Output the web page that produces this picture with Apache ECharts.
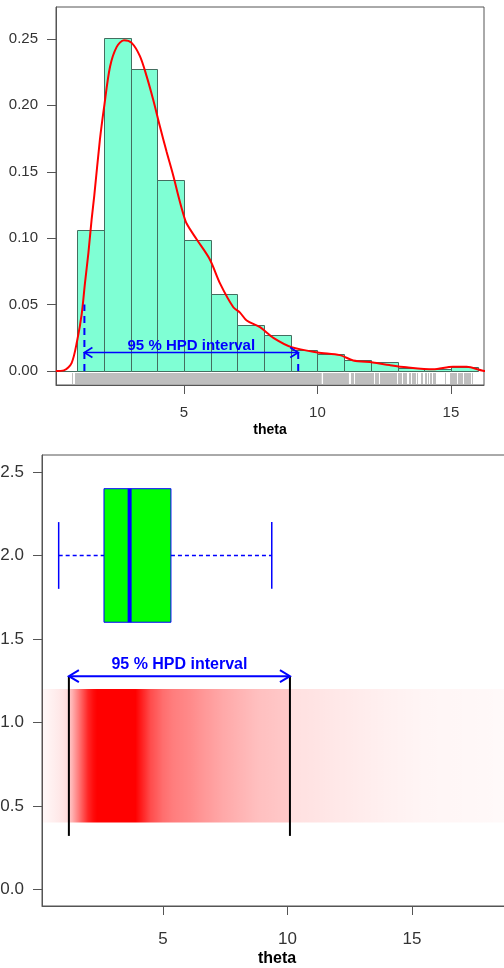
<!DOCTYPE html>
<html><head><meta charset="utf-8">
<script src="https://cdn.jsdelivr.net/npm/echarts@6/dist/echarts.min.js"></script>
<style>html,body{margin:0;padding:0;background:#fff}#c{width:504px;height:968px}</style>
</head><body><div id="c"></div>
<script>
// ---------- data: top panel (histogram + density) ----------
const binStart   = [0, 1, 2, 3, 4, 5, 6, 7, 8, 9, 10, 11, 12, 13, 14, 15];
const binEnd     = [1, 2, 3, 4, 5, 6, 7, 8, 9, 10, 11, 12, 13, 14, 15, 16];
const binDensity = [0, 0.106, 0.251, 0.227, 0.144, 0.099, 0.058, 0.035, 0.0275, 0.016, 0.013, 0.008, 0.007, 0.0023, 0.0015, 0.0028];

const densX = [0.2, 0.5, 0.79, 1.0, 1.17, 1.29, 1.42, 1.54, 1.64, 1.85, 2.01, 2.23, 2.48, 2.75, 3.04, 3.35, 3.6, 3.85, 4.1, 4.35, 4.6, 4.8, 4.95, 5.1, 5.48, 5.97, 6.35, 6.85, 7.1, 7.35, 7.85, 8.35, 9.03, 10.0, 10.84, 11.34, 12.08, 12.7, 13.34, 14.33, 15.08, 15.59, 16.2, 16.5];
const densY = [0.0, 0.0005, 0.006, 0.023, 0.043, 0.066, 0.089, 0.114, 0.132, 0.174, 0.199, 0.229, 0.244, 0.249, 0.247, 0.237, 0.222, 0.204, 0.184, 0.165, 0.147, 0.131, 0.120, 0.111, 0.099, 0.084, 0.066, 0.048, 0.044, 0.038, 0.033, 0.025, 0.018, 0.014, 0.012, 0.008, 0.0065, 0.0045, 0.0028, 0.0013, 0.0032, 0.0032, 0.0003, 0.0];

const rugRuns  = [[0.99, 10.16], [10.21, 11.18]];
const rugTicks = [0.79, 0.92, 0.95,
  11.24, 11.28, 11.31, 11.35, 11.40, 11.44, 11.47, 11.51, 11.56, 11.60, 11.63, 11.66, 11.70, 11.74, 11.78, 11.82, 11.85, 11.88, 11.93, 11.97,
  12.01, 12.04, 12.07, 12.10, 12.14, 12.17, 12.19, 12.23, 12.26, 12.28, 12.33, 12.37, 12.40, 12.42, 12.47, 12.51, 12.54, 12.57, 12.62, 12.66,
  12.69, 12.72, 12.75, 12.78, 12.83, 12.86, 12.88, 12.92, 12.95, 13.01, 13.04, 13.07, 13.11, 13.14, 13.20, 13.23, 13.27, 13.31,
  13.42, 13.45, 13.47, 13.53, 13.57, 13.60, 13.66, 13.73, 13.87, 13.92, 14.02, 14.07, 14.13,
  14.22, 14.27, 14.33, 14.36, 14.40, 14.79,
  14.96, 15.02, 15.05, 15.08, 15.13, 15.16, 15.19, 15.25, 15.30, 15.33, 15.37, 15.42, 15.48, 15.51, 15.55, 15.60, 15.64, 15.67, 15.73, 15.79];

const hpdTop      = [1.27, 9.28];
const hpdTopLineH = [0.05, 0.018];
const hpdTopArrowY = 0.014;

const xTicksTop = [5, 10, 15];
const yTicksTop = [0, 0.05, 0.10, 0.15, 0.20, 0.25];

// ---------- data: bottom panel (boxplot + shaded band) ----------
const boxStats   = [0.81, 2.63, 3.66, 5.32, 9.37]; // whisker lo, Q1, median, Q3, whisker hi
const boxYRange  = [1.6, 2.4];
const whiskerCap = [1.8, 2.2];
const boxCenterY = 2.0;

const hpdBot      = [1.22, 10.1];
const hpdBotArrowY = 1.277;
const hpdBotLineLow = 0.32;

const bandY  = [0.4, 1.2];
const shadeX = [0.0, 0.3, 0.66, 0.98, 1.20, 1.23, 1.35, 1.55, 1.79, 1.99, 2.19, 2.35, 3.9, 4.2, 4.5, 5.0, 5.4, 6.1, 6.5, 7.4, 8.8, 10.08, 10.12, 11.0, 12.0, 13.0, 14.0, 15.5, 17.5, 19.0];
const shadeA = [0.02, 0.04, 0.07, 0.10, 0.14, 0.22, 0.30, 0.47, 0.68, 0.85, 0.95, 1.0, 1.0, 0.85, 0.70, 0.57, 0.51, 0.46, 0.42, 0.34, 0.25, 0.21, 0.12, 0.11, 0.09, 0.075, 0.06, 0.04, 0.03, 0.02];

const xTicksBot = [5, 10, 15];
const yTicksBot = [0, 0.5, 1.0, 1.5, 2.0, 2.5];

const hpdLabel = '95 % HPD interval';

// ---------- chart ----------
const FONT = "'Liberation Sans', Arial, Helvetica, sans-serif";
const AX = '#555';
const chart = echarts.init(document.getElementById('c'), null, {renderer: 'canvas'});

function xAx(grid, min, max, ticks, fs, margin, nameGap, nameFs) {
  return {
    gridIndex: grid, type: 'value', min: min, max: max,
    axisLine: {show: true, onZero: false, lineStyle: {color: AX, width: 1}},
    axisTick: {show: true, inside: false, length: 9, customValues: ticks, lineStyle: {color: AX, width: 1}},
    axisLabel: {show: true, customValues: ticks, margin: margin, fontSize: fs, color: '#333', fontFamily: FONT, formatter: v => String(v)},
    splitLine: {show: false},
    name: 'theta', nameLocation: 'middle', nameGap: nameGap,
    nameTextStyle: {fontWeight: 'bold', fontSize: nameFs, color: '#000', fontFamily: FONT}
  };
}
function yAx(grid, min, max, ticks, fs, dec) {
  return {
    gridIndex: grid, type: 'value', min: min, max: max,
    axisLine: {show: true, onZero: false, lineStyle: {color: AX, width: 1}},
    axisTick: {show: true, inside: false, length: 9, customValues: ticks, lineStyle: {color: AX, width: 1}},
    axisLabel: {show: true, customValues: ticks, margin: 18, fontSize: fs, color: '#333', fontFamily: FONT, formatter: v => Number(v).toFixed(dec)},
    splitLine: {show: false}
  };
}
function arrowHead(tip, dir, len, half) {
  return [[tip[0] - dir * len, tip[1] - half], [tip[0], tip[1]], [tip[0] - dir * len, tip[1] + half]];
}

const option = {
  animation: false,
  backgroundColor: '#fff',
  grid: [
    {left: 56, top: 7, right: 20, bottom: 583, show: true, borderColor: AX, borderWidth: 1, backgroundColor: 'transparent',
     containLabel: false, outerBoundsMode: 'none'},
    {left: 42, top: 455, right: -8, bottom: 62, show: true, borderColor: AX, borderWidth: 1, backgroundColor: 'transparent',
     containLabel: false, outerBoundsMode: 'none'}
  ],
  xAxis: [
    xAx(0, 0.206, 16.24, xTicksTop, 15, 20, 38, 14),
    xAx(1, 0.14, 19.02, xTicksBot, 17, 25, 45, 16)
  ],
  yAxis: [
    yAx(0, -0.0105, 0.274, yTicksTop, 15, 2),
    yAx(1, -0.1, 2.602, yTicksBot, 17, 1)
  ],
  series: [
    // histogram
    {
      type: 'custom', xAxisIndex: 0, yAxisIndex: 0, clip: true, z: 2,
      data: binStart.map((s, i) => [s, binEnd[i], binDensity[i]]),
      encode: {x: [0, 1], y: 2},
      renderItem: (params, api) => {
        const a = api.coord([api.value(0), 0]);
        const b = api.coord([api.value(1), api.value(2)]);
        const x0 = Math.round(a[0]) + 0.5, x1 = Math.round(b[0]) + 0.5;
        const y0 = Math.round(a[1]) + 0.5, y1 = Math.round(b[1]) + 0.5;
        return {type: 'rect', shape: {x: x0, y: y1, width: x1 - x0, height: y0 - y1},
          style: {fill: '#7FFFD4', stroke: '#446e60', lineWidth: 1}};
      }
    },
    // rug
    {
      type: 'custom', xAxisIndex: 0, yAxisIndex: 0, clip: true, z: 2,
      data: [0],
      renderItem: (params, api) => {
        const y0 = api.coord([0, 0])[1];
        const children = [];
        rugRuns.forEach(r => {
          const a = api.coord([r[0], 0])[0], b = api.coord([r[1], 0])[0];
          children.push({type: 'rect', shape: {x: a, y: y0 + 2, width: b - a, height: 11}, style: {fill: '#bebebe'}});
        });
        rugTicks.forEach(t => {
          const x = Math.round(api.coord([t, 0])[0]) + 0.5;
          children.push({type: 'line', shape: {x1: x, y1: y0 + 2, x2: x, y2: y0 + 13}, style: {stroke: '#bebebe', lineWidth: 1}});
        });
        return {type: 'group', children: children};
      }
    },
    // density
    {
      type: 'line', xAxisIndex: 0, yAxisIndex: 0, clip: true, z: 4,
      data: densX.map((x, i) => [x, densY[i]]),
      showSymbol: false, symbol: 'none', smooth: 0.3,
      lineStyle: {color: '#FF0000', width: 2}
    },
    // top HPD
    {
      type: 'custom', xAxisIndex: 0, yAxisIndex: 0, clip: true, z: 5,
      data: [0],
      renderItem: (params, api) => {
        const L = api.coord([hpdTop[0], hpdTopArrowY]), R = api.coord([hpdTop[1], hpdTopArrowY]);
        const Lb = api.coord([hpdTop[0], 0]), Lt = api.coord([hpdTop[0], hpdTopLineH[0]]);
        const Rb = api.coord([hpdTop[1], 0]), Rt = api.coord([hpdTop[1], hpdTopLineH[1]]);
        const st = {stroke: '#0000FF', lineWidth: 1.6, fill: null};
        return {type: 'group', children: [
          {type: 'line', shape: {x1: Lb[0], y1: Lb[1], x2: Lt[0], y2: Lt[1]}, style: {stroke: '#0000FF', lineWidth: 2, lineDash: [7, 5]}},
          {type: 'line', shape: {x1: Rb[0], y1: Rb[1], x2: Rt[0], y2: Rt[1]}, style: {stroke: '#0000FF', lineWidth: 2, lineDash: [7, 5]}},
          {type: 'line', shape: {x1: L[0], y1: L[1], x2: R[0], y2: R[1]}, style: st},
          {type: 'polyline', shape: {points: arrowHead(L, -1, 8, 5)}, style: st},
          {type: 'polyline', shape: {points: arrowHead(R, 1, 8, 5)}, style: st},
          {type: 'text', style: {text: hpdLabel, x: (L[0] + R[0]) / 2, y: L[1] + 1, align: 'center', verticalAlign: 'bottom',
            fill: '#0000FF', font: 'bold 15px ' + FONT}}
        ]};
      }
    },
    // shaded band
    {
      type: 'custom', xAxisIndex: 1, yAxisIndex: 1, clip: true, z: 2,
      data: [0],
      renderItem: (params, api) => {
        const x0 = api.coord([shadeX[0], bandY[1]]);
        const x1 = api.coord([shadeX[shadeX.length - 1], bandY[0]]);
        const w = x1[0] - x0[0];
        const stops = shadeX.map((x, i) => ({
          offset: (api.coord([x, 0])[0] - x0[0]) / w,
          color: 'rgba(255,0,0,' + shadeA[i] + ')'
        }));
        return {type: 'rect', shape: {x: x0[0], y: x0[1], width: w, height: x1[1] - x0[1]},
          style: {fill: {type: 'linear', x: 0, y: 0, x2: 1, y2: 0, colorStops: stops}}};
      }
    },
    // boxplot
    {
      type: 'custom', xAxisIndex: 1, yAxisIndex: 1, clip: true, z: 3,
      data: [0],
      renderItem: (params, api) => {
        const c = v => api.coord(v);
        const wl = c([boxStats[0], boxCenterY]), q1 = c([boxStats[1], boxCenterY]);
        const q3 = c([boxStats[3], boxCenterY]), wh = c([boxStats[4], boxCenterY]);
        const bt = c([boxStats[1], boxYRange[1]]), bb = c([boxStats[3], boxYRange[0]]);
        const mt = c([boxStats[2], boxYRange[1]]), mb = c([boxStats[2], boxYRange[0]]);
        const ct = c([0, whiskerCap[1]])[1], cb = c([0, whiskerCap[0]])[1];
        const blue = '#0000FF';
        const yc = wl[1];
        return {type: 'group', children: [
          {type: 'line', shape: {x1: wl[0], y1: yc, x2: q1[0], y2: yc}, style: {stroke: blue, lineWidth: 1.3, lineDash: [4, 3]}},
          {type: 'line', shape: {x1: q3[0], y1: yc, x2: wh[0], y2: yc}, style: {stroke: blue, lineWidth: 1.3, lineDash: [4, 3]}},
          {type: 'line', shape: {x1: wl[0], y1: ct, x2: wl[0], y2: cb}, style: {stroke: blue, lineWidth: 1.5}},
          {type: 'line', shape: {x1: wh[0], y1: ct, x2: wh[0], y2: cb}, style: {stroke: blue, lineWidth: 1.5}},
          {type: 'rect', shape: {x: bt[0], y: bt[1], width: bb[0] - bt[0], height: bb[1] - bt[1]}, style: {fill: '#00FF00', stroke: blue, lineWidth: 1}},
          {type: 'line', shape: {x1: mt[0], y1: mt[1], x2: mb[0], y2: mb[1]}, style: {stroke: blue, lineWidth: 4}}
        ]};
      }
    },
    // bottom HPD
    {
      type: 'custom', xAxisIndex: 1, yAxisIndex: 1, clip: true, z: 5,
      data: [0],
      renderItem: (params, api) => {
        const L = api.coord([hpdBot[0], hpdBotArrowY]), R = api.coord([hpdBot[1], hpdBotArrowY]);
        const Lb = api.coord([hpdBot[0], hpdBotLineLow]), Rb = api.coord([hpdBot[1], hpdBotLineLow]);
        const st = {stroke: '#0000FF', lineWidth: 2, fill: null};
        return {type: 'group', children: [
          {type: 'line', shape: {x1: L[0], y1: L[1], x2: Lb[0], y2: Lb[1]}, style: {stroke: '#000', lineWidth: 2}},
          {type: 'line', shape: {x1: R[0], y1: R[1], x2: Rb[0], y2: Rb[1]}, style: {stroke: '#000', lineWidth: 2}},
          {type: 'line', shape: {x1: L[0], y1: L[1], x2: R[0], y2: R[1]}, style: st},
          {type: 'polyline', shape: {points: arrowHead(L, -1, 10, 6)}, style: st},
          {type: 'polyline', shape: {points: arrowHead(R, 1, 10, 6)}, style: st},
          {type: 'text', style: {text: hpdLabel, x: (L[0] + R[0]) / 2, y: L[1] - 4, align: 'center', verticalAlign: 'bottom',
            fill: '#0000FF', font: 'bold 16px ' + FONT}}
        ]};
      }
    }
  ]
};
chart.setOption(option);
</script>
</body></html>
